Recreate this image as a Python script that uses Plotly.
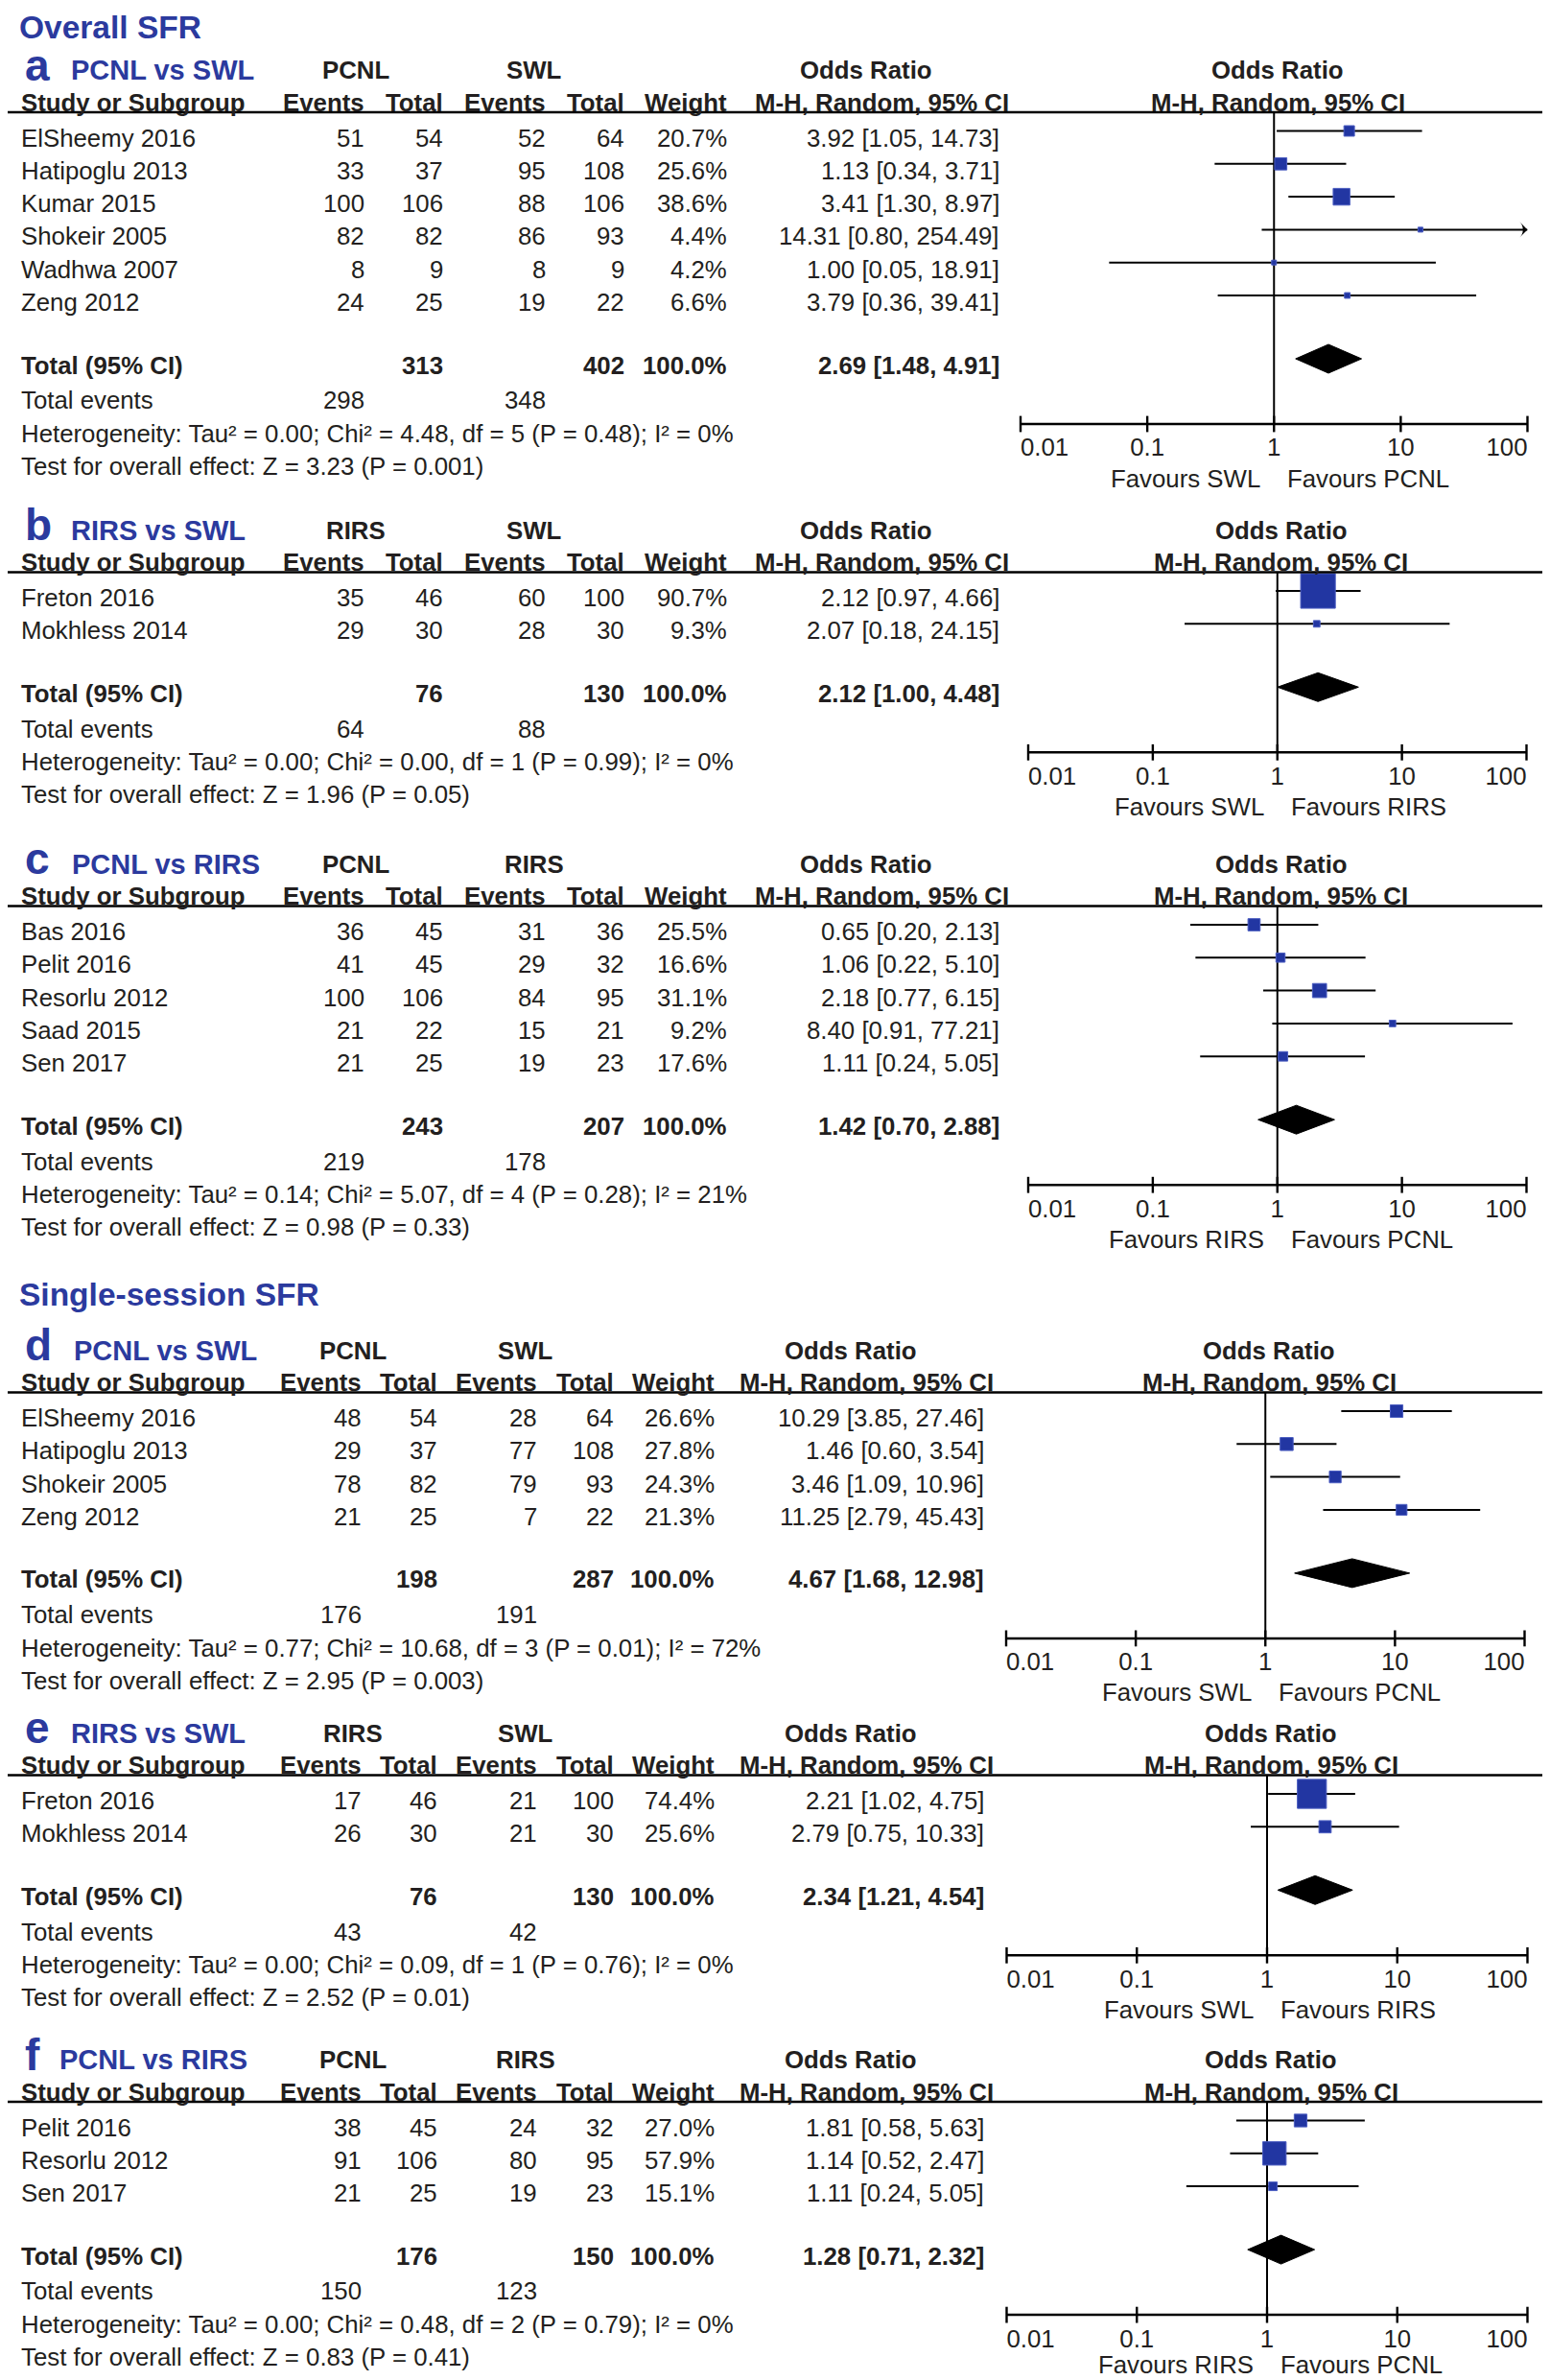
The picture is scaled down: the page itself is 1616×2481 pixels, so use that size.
import plotly.graph_objects as go

W, H = 1616, 2481
OFF = 8  # the page body keeps its default 8px margin; pixel positions below are page positions
FONT = "Liberation Sans, Arial, Helvetica, sans-serif"
INK = "#231f20"
BLUE = "#2b3a9e"
BOX_BLUE = "#2236a2"
FS = 25.8

# ---------------- data ----------------
ticks = [0.01, 0.1, 1, 10, 100]
tick_labels = ["0.01", "0.1", "1", "10", "100"]
section_titles = ["Overall SFR", "Single-session SFR"]

# a  PCNL vs SWL (overall)
a_groups = ["PCNL", "SWL"]
a_study = ["ElSheemy 2016", "Hatipoglu 2013", "Kumar 2015", "Shokeir 2005", "Wadhwa 2007", "Zeng 2012"]
a_ev1 = [51, 33, 100, 82, 8, 24]
a_n1 = [54, 37, 106, 82, 9, 25]
a_ev2 = [52, 95, 88, 86, 8, 19]
a_n2 = [64, 108, 106, 93, 9, 22]
a_weight = [20.7, 25.6, 38.6, 4.4, 4.2, 6.6]
a_or = [3.92, 1.13, 3.41, 14.31, 1.00, 3.79]
a_lo = [1.05, 0.34, 1.30, 0.80, 0.05, 0.36]
a_hi = [14.73, 3.71, 8.97, 254.49, 18.91, 39.41]
a_totals = [313, 402]
a_events = [298, 348]
a_pooled = [2.69, 1.48, 4.91]
a_het = "Heterogeneity: Tau² = 0.00; Chi² = 4.48, df = 5 (P = 0.48); I² = 0%"
a_test = "Test for overall effect: Z = 3.23 (P = 0.001)"
a_favours = ["Favours SWL", "Favours PCNL"]

# b  RIRS vs SWL (overall)
b_groups = ["RIRS", "SWL"]
b_study = ["Freton 2016", "Mokhless 2014"]
b_ev1 = [35, 29]
b_n1 = [46, 30]
b_ev2 = [60, 28]
b_n2 = [100, 30]
b_weight = [90.7, 9.3]
b_or = [2.12, 2.07]
b_lo = [0.97, 0.18]
b_hi = [4.66, 24.15]
b_totals = [76, 130]
b_events = [64, 88]
b_pooled = [2.12, 1.00, 4.48]
b_het = "Heterogeneity: Tau² = 0.00; Chi² = 0.00, df = 1 (P = 0.99); I² = 0%"
b_test = "Test for overall effect: Z = 1.96 (P = 0.05)"
b_favours = ["Favours SWL", "Favours RIRS"]

# c  PCNL vs RIRS (overall)
c_groups = ["PCNL", "RIRS"]
c_study = ["Bas 2016", "Pelit 2016", "Resorlu 2012", "Saad 2015", "Sen 2017"]
c_ev1 = [36, 41, 100, 21, 21]
c_n1 = [45, 45, 106, 22, 25]
c_ev2 = [31, 29, 84, 15, 19]
c_n2 = [36, 32, 95, 21, 23]
c_weight = [25.5, 16.6, 31.1, 9.2, 17.6]
c_or = [0.65, 1.06, 2.18, 8.40, 1.11]
c_lo = [0.20, 0.22, 0.77, 0.91, 0.24]
c_hi = [2.13, 5.10, 6.15, 77.21, 5.05]
c_totals = [243, 207]
c_events = [219, 178]
c_pooled = [1.42, 0.70, 2.88]
c_het = "Heterogeneity: Tau² = 0.14; Chi² = 5.07, df = 4 (P = 0.28); I² = 21%"
c_test = "Test for overall effect: Z = 0.98 (P = 0.33)"
c_favours = ["Favours RIRS", "Favours PCNL"]

# d  PCNL vs SWL (single session)
d_groups = ["PCNL", "SWL"]
d_study = ["ElSheemy 2016", "Hatipoglu 2013", "Shokeir 2005", "Zeng 2012"]
d_ev1 = [48, 29, 78, 21]
d_n1 = [54, 37, 82, 25]
d_ev2 = [28, 77, 79, 7]
d_n2 = [64, 108, 93, 22]
d_weight = [26.6, 27.8, 24.3, 21.3]
d_or = [10.29, 1.46, 3.46, 11.25]
d_lo = [3.85, 0.60, 1.09, 2.79]
d_hi = [27.46, 3.54, 10.96, 45.43]
d_totals = [198, 287]
d_events = [176, 191]
d_pooled = [4.67, 1.68, 12.98]
d_het = "Heterogeneity: Tau² = 0.77; Chi² = 10.68, df = 3 (P = 0.01); I² = 72%"
d_test = "Test for overall effect: Z = 2.95 (P = 0.003)"
d_favours = ["Favours SWL", "Favours PCNL"]

# e  RIRS vs SWL (single session)
e_groups = ["RIRS", "SWL"]
e_study = ["Freton 2016", "Mokhless 2014"]
e_ev1 = [17, 26]
e_n1 = [46, 30]
e_ev2 = [21, 21]
e_n2 = [100, 30]
e_weight = [74.4, 25.6]
e_or = [2.21, 2.79]
e_lo = [1.02, 0.75]
e_hi = [4.75, 10.33]
e_totals = [76, 130]
e_events = [43, 42]
e_pooled = [2.34, 1.21, 4.54]
e_het = "Heterogeneity: Tau² = 0.00; Chi² = 0.09, df = 1 (P = 0.76); I² = 0%"
e_test = "Test for overall effect: Z = 2.52 (P = 0.01)"
e_favours = ["Favours SWL", "Favours RIRS"]

# f  PCNL vs RIRS (single session)
f_groups = ["PCNL", "RIRS"]
f_study = ["Pelit 2016", "Resorlu 2012", "Sen 2017"]
f_ev1 = [38, 91, 21]
f_n1 = [45, 106, 25]
f_ev2 = [24, 80, 19]
f_n2 = [32, 95, 23]
f_weight = [27.0, 57.9, 15.1]
f_or = [1.81, 1.14, 1.11]
f_lo = [0.58, 0.52, 0.24]
f_hi = [5.63, 2.47, 5.05]
f_totals = [176, 150]
f_events = [150, 123]
f_pooled = [1.28, 0.71, 2.32]
f_het = "Heterogeneity: Tau² = 0.00; Chi² = 0.48, df = 2 (P = 0.79); I² = 0%"
f_test = "Test for overall effect: Z = 0.83 (P = 0.41)"
f_favours = ["Favours RIRS", "Favours PCNL"]


def bundle(letter, title, groups, study, ev1, n1, ev2, n2, weight, orr, lo, hi,
           totals, events, pooled, het, test, favours):
    return dict(letter=letter, title=title, groups=groups, study=study, ev1=ev1, n1=n1,
                ev2=ev2, n2=n2, weight=weight, orr=orr, lo=lo, hi=hi, totals=totals,
                events=events, pooled=pooled, het=het, test=test, favours=favours)


panels = [
    bundle("a", "PCNL vs SWL", a_groups, a_study, a_ev1, a_n1, a_ev2, a_n2, a_weight, a_or,
           a_lo, a_hi, a_totals, a_events, a_pooled, a_het, a_test, a_favours),
    bundle("b", "RIRS vs SWL", b_groups, b_study, b_ev1, b_n1, b_ev2, b_n2, b_weight, b_or,
           b_lo, b_hi, b_totals, b_events, b_pooled, b_het, b_test, b_favours),
    bundle("c", "PCNL vs RIRS", c_groups, c_study, c_ev1, c_n1, c_ev2, c_n2, c_weight, c_or,
           c_lo, c_hi, c_totals, c_events, c_pooled, c_het, c_test, c_favours),
    bundle("d", "PCNL vs SWL", d_groups, d_study, d_ev1, d_n1, d_ev2, d_n2, d_weight, d_or,
           d_lo, d_hi, d_totals, d_events, d_pooled, d_het, d_test, d_favours),
    bundle("e", "RIRS vs SWL", e_groups, e_study, e_ev1, e_n1, e_ev2, e_n2, e_weight, e_or,
           e_lo, e_hi, e_totals, e_events, e_pooled, e_het, e_test, e_favours),
    bundle("f", "PCNL vs RIRS", f_groups, f_study, f_ev1, f_n1, f_ev2, f_n2, f_weight, f_or,
           f_lo, f_hi, f_totals, f_events, f_pooled, f_het, f_test, f_favours),
]

# ---------------- layout (page pixel positions) ----------------
TOP_COLS = dict(ev1=381.5, n1=464, ev2=570.5, n2=652.5, wt=759.5, ci=1044)
BOT_COLS = dict(ev1=378.5, n1=457.5, ev2=561.5, n2=641.5, wt=746.5, ci=1027.5)
geom = [
    dict(line_y=117, forest=(1064, 1592.5), cols=TOP_COLS, title_x=71.5),
    dict(line_y=596.5, forest=(1072, 1591.5), cols=TOP_COLS, title_x=71.5),
    dict(line_y=944.5, forest=(1072, 1591.5), cols=TOP_COLS, title_x=72.5),
    dict(line_y=1451.5, forest=(1049, 1589.5), cols=BOT_COLS, title_x=74.5),
    dict(line_y=1850.5, forest=(1049.5, 1592.5), cols=BOT_COLS, title_x=71.5),
    dict(line_y=2191, forest=(1049.5, 1592.5), cols=BOT_COLS, title_x=59.5),
]
section_y = [28, 1349]
PITCH = 34.3
FW, FH = W - OFF, H - OFF

fig = go.Figure()
annotations = []
shapes = []


def txt(x, y, s, anchor="left", size=FS, bold=False, color=INK, xref="x", xshift=0):
    annotations.append(dict(
        x=x, y=y, xref=xref, yref="y", text=f"<b>{s}</b>" if bold else s,
        showarrow=False, xanchor=anchor, yanchor="middle", xshift=xshift,
        font=dict(family=FONT, size=size, color=color)))


for title, ty in zip(section_titles, section_y):
    txt(18, ty, title, size=33.5, bold=True, color=BLUE)

layout_axes = {}
for k, (p, g) in enumerate(zip(panels, geom)):
    ax_id = k + 2
    xa = f"x{ax_id}"
    layout_axes[f"xaxis{ax_id}"] = dict(
        type="log", range=[-2, 2],
        domain=[(g["forest"][0] - OFF) / FW, (g["forest"][1] - OFF) / FW],
        anchor="y", visible=False, fixedrange=True)

    ly = g["line_y"]
    c = g["cols"]
    head_y = ly - 44
    sub_y = ly - 10.5
    n = len(p["study"])
    row_y = [ly + 26.5 + i * PITCH for i in range(n)]
    tot_y = row_y[-1] + 65.5
    ev_y = tot_y + 36.8
    het_y = tot_y + 71.5
    test_y = tot_y + 105.3
    axis_y = tot_y + 61.5
    fav_y = min(axis_y + 56.5, H - 16)

    # headers
    txt(24, ly - 49.5, p["letter"], size=46, bold=True, color=BLUE)
    txt(g["title_x"], head_y, p["title"], size=29, bold=True, color=BLUE)
    txt(c["ev1"] - 11, head_y, p["groups"][0], "center", bold=True)
    txt(c["ev2"] - 14, head_y, p["groups"][1], "center", bold=True)
    txt(c["ci"] - 141, head_y, "Odds Ratio", "center", bold=True)
    txt(19.5, sub_y, "Study or Subgroup", bold=True)
    for key, lab in [("ev1", "Events"), ("n1", "Total"), ("ev2", "Events"),
                     ("n2", "Total"), ("wt", "Weight")]:
        txt(c[key], sub_y, lab, "right", bold=True)
    txt(c["ci"] + 10, sub_y, "M-H, Random, 95% CI", "right", bold=True)
    txt(0, head_y, "Odds Ratio", "center", bold=True, xref=xa, xshift=4)
    txt(0, sub_y, "M-H, Random, 95% CI", "center", bold=True, xref=xa, xshift=4)
    shapes.append(dict(type="line", xref="x", yref="y", x0=3, x1=W, y0=ly, y1=ly,
                       line=dict(color="black", width=2.5)))

    # study rows
    for i in range(n):
        y = row_y[i]
        txt(19.5, y, p["study"][i])
        txt(c["ev1"], y, str(p["ev1"][i]), "right")
        txt(c["n1"], y, str(p["n1"][i]), "right")
        txt(c["ev2"], y, str(p["ev2"][i]), "right")
        txt(c["n2"], y, str(p["n2"][i]), "right")
        txt(c["wt"], y, f"{p['weight'][i]:.1f}%", "right")
        txt(c["ci"], y, f"{p['orr'][i]:.2f} [{p['lo'][i]:.2f}, {p['hi'][i]:.2f}]", "right")

    # totals
    est, plo, phi = p["pooled"]
    txt(19.5, tot_y, "Total (95% CI)", bold=True)
    txt(c["n1"], tot_y, str(p["totals"][0]), "right", bold=True)
    txt(c["n2"], tot_y, str(p["totals"][1]), "right", bold=True)
    txt(c["wt"], tot_y, "100.0%", "right", bold=True)
    txt(c["ci"], tot_y, f"{est:.2f} [{plo:.2f}, {phi:.2f}]", "right", bold=True)
    txt(19.5, ev_y, "Total events")
    txt(c["ev1"], ev_y, str(p["events"][0]), "right")
    txt(c["ev2"], ev_y, str(p["events"][1]), "right")
    txt(19.5, het_y, p["het"])
    txt(19.5, test_y, p["test"])

    # forest plot
    mark_y = [y - 7 for y in row_y]
    dia_y = tot_y - 6.5
    common = dict(xaxis=xa, yaxis="y", showlegend=False, hoverinfo="skip", cliponaxis=False)

    fig.add_trace(go.Scatter(x=[1, 1], y=[ly, axis_y], mode="lines",
                             line=dict(color="black", width=2), **common))
    fig.add_trace(go.Scatter(x=[ticks[0], ticks[-1]], y=[axis_y, axis_y], mode="lines",
                             line=dict(color="black", width=2.5), **common))
    fig.add_trace(go.Scatter(x=ticks, y=[axis_y] * len(ticks), mode="markers",
                             marker=dict(symbol="line-ns", size=12, opacity=1,
                                         line=dict(color="black", width=2.4)), **common))
    tpos = ["middle right"] + ["middle center"] * (len(ticks) - 2) + ["middle left"]
    fig.add_trace(go.Scatter(x=ticks, y=[axis_y + 27] * len(ticks), mode="text",
                             text=tick_labels, textposition=tpos,
                             textfont=dict(family=FONT, size=FS, color=INK), **common))

    cx, cy, ax_, ay_ = [], [], [], []
    for i in range(n):
        hi = min(p["hi"][i], ticks[-1])
        cx += [p["lo"][i], hi, None]
        cy += [mark_y[i], mark_y[i], None]
        if p["hi"][i] > ticks[-1]:
            ax_.append(ticks[-1])
            ay_.append(mark_y[i])
    fig.add_trace(go.Scatter(x=cx, y=cy, mode="lines",
                             line=dict(color="black", width=2), **common))
    if ax_:
        fig.add_trace(go.Scatter(x=ax_, y=ay_, mode="markers",
                                 marker=dict(symbol="arrow-wide", angle=90, size=11.5,
                                             color="black", opacity=1), **common))
    fig.add_trace(go.Scatter(
        x=p["orr"], y=mark_y, mode="markers",
        marker=dict(symbol="square", size=[3.5 + 0.36 * w for w in p["weight"]],
                    color=BOX_BLUE, opacity=1, line=dict(color="#4a5cc0", width=1)),
        **common))
    fig.add_trace(go.Scatter(
        x=[plo, est, phi, est, plo], y=[dia_y, dia_y - 15, dia_y, dia_y + 15, dia_y],
        mode="lines", fill="toself", fillcolor="black",
        line=dict(color="black", width=1), **common))

    txt(0, fav_y, p["favours"][0], "right", xref=xa, xshift=-12)
    txt(0, fav_y, p["favours"][1], "left", xref=xa, xshift=12)

fig.update_layout(
    width=FW, height=FH,
    margin=dict(l=0, r=0, t=0, b=0),
    paper_bgcolor="white", plot_bgcolor="rgba(0,0,0,0)",
    showlegend=False, hovermode=False,
    xaxis=dict(range=[OFF, W], domain=[0, 1], visible=False, fixedrange=True, anchor="y"),
    yaxis=dict(range=[H, OFF], domain=[0, 1], visible=False, fixedrange=True, anchor="x"),
    annotations=annotations, shapes=shapes,
    **layout_axes,
)

fig.write_html("out.html")
